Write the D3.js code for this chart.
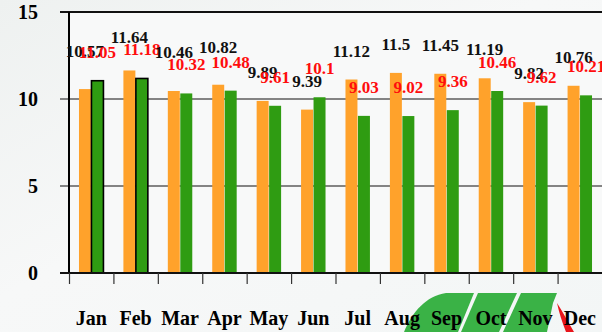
<!DOCTYPE html>
<html>
<head>
<meta charset="utf-8">
<script src="https://cdn.jsdelivr.net/npm/d3@7/dist/d3.min.js"></script>
<style>
  html, body { margin: 0; padding: 0; background: #f5f7f6; }
  svg { display: block; }
  text { font-family: "Liberation Serif", "Times New Roman", serif; font-weight: bold; }
</style>
</head>
<body>
<svg id="chart" width="602" height="332"></svg>
<script>
// Monthly values, two series
const months = ["Jan", "Feb", "Mar", "Apr", "May", "Jun", "Jul", "Aug", "Sep", "Oct", "Nov", "Dec"];
const seriesA = [10.57, 11.64, 10.46, 10.82, 9.89, 9.39, 11.12, 11.5, 11.45, 11.19, 9.82, 10.76];
const seriesB = [11.05, 11.18, 10.32, 10.48, 9.61, 10.1, 9.03, 9.02, 9.36, 10.46, 9.62, 10.21];
const yTicks = [0, 5, 10, 15];
const outlinedMonths = ["Jan", "Feb"];

const svg = d3.select("#chart");
const W = 602, H = 332;
const plotLeft = 69, plotRight = 602, plotTop = 12, plotBottom = 273;

// background wash
const defs = svg.append("defs");
const grad = defs.append("linearGradient").attr("id", "bg").attr("x1", 0).attr("y1", 0).attr("x2", 1).attr("y2", 1);
grad.append("stop").attr("offset", "0%").attr("stop-color", "#eef1f0");
grad.append("stop").attr("offset", "45%").attr("stop-color", "#f7f8f8");
grad.append("stop").attr("offset", "100%").attr("stop-color", "#f3f6f6");
svg.append("rect").attr("width", W).attr("height", H).attr("fill", "url(#bg)");

// logo in the lower right corner
const logo = svg.append("g").attr("class", "logo");
logo.append("path")
  .attr("d", "M404,332 C412,312 426,296 446,293 L474,293 L458,332 Z")
  .attr("fill", "#3ab246");
logo.append("path")
  .attr("d", "M478,293 L517,293 L499,332 L461,332 Z")
  .attr("fill", "#3ab246");
logo.append("path")
  .attr("d", "M521,293 L557,293 L553,303 L547,332 L503,332 Z")
  .attr("fill", "#3ab246");
logo.append("path")
  .attr("d", "M557,303 C563,312 568,322 574,332 L566,332 C562,322 559,312 557,303 Z")
  .attr("fill", "#e8151b");

// plot area
svg.append("rect").attr("x", plotLeft).attr("y", plotTop)
  .attr("width", plotRight - plotLeft).attr("height", plotBottom - plotTop)
  .attr("fill", "#f8f9f9");

const x0 = d3.scaleBand().domain(months).range([plotLeft, plotRight]).paddingInner(0).paddingOuter(0);
const x1 = d3.scaleBand().domain(["a", "b"]).range([0, x0.bandwidth()]).paddingInner(0.04).paddingOuter(0.8);
const y = d3.scaleLinear().domain([0, 15]).range([plotBottom, plotTop]);

// horizontal grid lines
svg.append("g").selectAll("line").data(yTicks).join("line")
  .attr("x1", 60).attr("x2", plotRight)
  .attr("y1", d => y(d)).attr("y2", d => y(d))
  .attr("stroke", "#111")
  .attr("stroke-width", d => (d === 15 || d === 0) ? 2 : 1.2);

// bars
const bars = svg.append("g");
months.forEach((m, i) => {
  bars.append("rect")
    .attr("x", x0(m) + x1("a")).attr("width", x1.bandwidth())
    .attr("y", y(seriesA[i])).attr("height", y(0) - y(seriesA[i]))
    .attr("fill", "#ffa22b");
  const g = bars.append("rect")
    .attr("x", x0(m) + x1("b")).attr("width", x1.bandwidth())
    .attr("y", y(seriesB[i])).attr("height", y(0) - y(seriesB[i]))
    .attr("fill", "#2f9c12");
  if (outlinedMonths.includes(m)) g.attr("stroke", "#000").attr("stroke-width", 1.6);
});

// axes
svg.append("line").attr("x1", plotLeft).attr("x2", plotLeft).attr("y1", plotTop).attr("y2", plotBottom + 1)
  .attr("stroke", "#000").attr("stroke-width", 2);
svg.append("line").attr("x1", 60).attr("x2", plotRight).attr("y1", plotBottom).attr("y2", plotBottom)
  .attr("stroke", "#111").attr("stroke-width", 2);

// category ticks below the axis
svg.append("g").selectAll("line").data(months).join("line")
  .attr("x1", d => x0(d) + 0.5).attr("x2", d => x0(d) + 0.5)
  .attr("y1", plotBottom).attr("y2", plotBottom + 11)
  .attr("stroke", "#333").attr("stroke-width", 1.2);

// y tick labels
svg.append("g").selectAll("text").data(yTicks).join("text")
  .attr("x", 38).attr("y", d => y(d)).attr("dy", "0.34em")
  .attr("text-anchor", "end").attr("font-size", 20).attr("fill", "#000")
  .text(d => d);

// month labels
svg.append("g").selectAll("text").data(months).join("text")
  .attr("x", d => x0(d) + x0.bandwidth() / 2).attr("y", 325)
  .attr("text-anchor", "middle").attr("font-size", 20).attr("fill", "#000")
  .text(d => d);

// value labels; a few early-month labels sit a little higher
const lift = { Jan: 9, Feb: 4.5, Mar: 10, Apr: 9 };
const labels = svg.append("g").attr("font-size", 17).attr("text-anchor", "middle");
months.forEach((m, i) => {
  labels.append("text")
    .attr("x", x0(m) + x1("a") + x1.bandwidth() / 2)
    .attr("y", y(seriesA[i]) - 23 - (lift[m] || 0))
    .attr("fill", "#111").text(seriesA[i]);
  labels.append("text")
    .attr("x", x0(m) + x1("b") + x1.bandwidth() / 2)
    .attr("y", y(seriesB[i]) - 23)
    .attr("fill", "#ff0d0d").text(seriesB[i]);
});
</script>
</body>
</html>
